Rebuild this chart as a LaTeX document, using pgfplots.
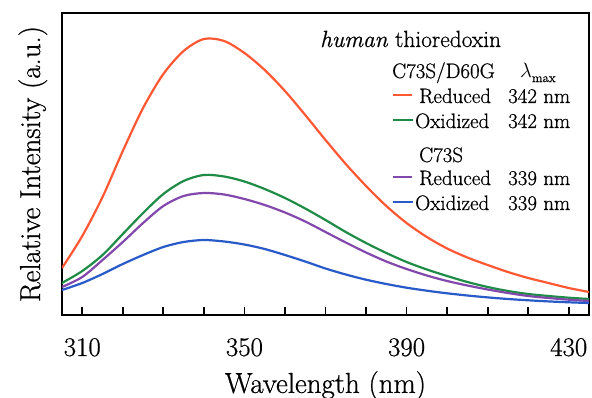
\documentclass[border=0pt]{standalone}
\usepackage{fontspec}
\setmainfont{Latin Modern Roman}[FakeBold=0.7]
\usepackage{pgfplots}
\pgfplotsset{compat=1.18}
\usepackage{pgfplotstable}
\definecolor{cred}{RGB}{255,88,50}
\definecolor{cgreen}{RGB}{30,140,70}
\definecolor{cpurple}{RGB}{130,72,172}
\definecolor{cblue}{RGB}{40,90,200}

\pgfplotstableread{
x red green purple blue
305 47 32 28 25
310 79 44 38 32
315 118 60 55 41
320 164 81 73 51
325 207 102 92 60
330 241 121 109 68
335 264 134 119 73
340 276 140 122 75
345 274 138.5 120.5 73.5
350 262 133.5 116 70.5
355 245 126 110 66
360 224 117 102.5 60
365 200 106.5 93.5 53.5
370 175 95 83 46.5
375 151 83 72.5 40.5
380 129 72 62.5 35.3
385 109 62 53.5 31
390 92 53 46 27.3
395 78 45.5 39.5 24.3
400 66.5 39 34 21.7
405 57.5 33 29.5 19.5
410 50 28 25.5 17.6
415 43 24 22 16
420 37 21 19 14.7
425 32 19 17 13.6
430 27 17.3 15.3 12.7
435 23 16 14 12
}\spectra

\begin{document}
\begin{tikzpicture}
\begin{axis}[
  scale only axis,
  width=527bp, height=302bp,
  at={(0,0)}, anchor=south west,
  xmin=305, xmax=435, ymin=0, ymax=302,
  xtick={310,350,390,430},
  minor xtick={320,330,340,360,370,380,400,410,420},
  ytick=\empty,
  xtick pos=left,
  xtick align=inside,
  major tick length=8bp, minor tick length=8bp,
  every tick/.style={black, line width=1.8bp},
  minor tick style={black, line width=1.8bp},
  major tick style={black, line width=1.8bp},
  axis line style={black, line width=2.6bp},
  /pgf/number format/assume math mode=true,
  xticklabel style={font=\fontsize{27}{30}\selectfont, anchor=base, yshift=-41bp},
  xlabel={Wavelength (nm)},
  ylabel={Relative Intensity (a.u.)},
  xlabel style={font=\fontsize{29}{33}\selectfont, at={(axis description cs:0.5,-0.258)}, anchor=base},
  ylabel style={font=\fontsize{29}{33}\selectfont, at={(axis description cs:-0.0417,0.5)}, anchor=base, rotate=0},
  clip=true,
]
\addplot[cred, line width=2.2bp, smooth] table[x=x,y=red] {\spectra};
\addplot[cgreen, line width=2.2bp, smooth] table[x=x,y=green] {\spectra};
\addplot[cpurple, line width=2.2bp, smooth] table[x=x,y=purple] {\spectra};
\addplot[cblue, line width=2.2bp, smooth] table[x=x,y=blue] {\spectra};
\end{axis}
\begin{scope}[every node/.style={inner sep=0pt, anchor=base west, font=\fontsize{21}{24}\selectfont}]
\node[font=\fontsize{23.5}{26}\selectfont] at (258bp,268bp) {\textit{human} thioredoxin};
\node at (330bp,237bp) {C73S/D60G};
\node at (458bp,237bp) {$\lambda$\raisebox{-0.45ex}{\fontsize{13}{14}\selectfont max}};
\node at (331bp,212bp) {\textcolor{cred}{\rule[0.32em]{19bp}{2bp}}\hspace{7bp}Reduced};
\node at (446bp,212bp) {342 nm};
\node at (331bp,187bp) {\textcolor{cgreen}{\rule[0.32em]{20bp}{2bp}}\hspace{2bp}Oxidized};
\node at (446bp,187bp) {342 nm};
\node at (357bp,153bp) {C73S};
\node at (331bp,130bp) {\textcolor{cpurple}{\rule[0.32em]{19bp}{2bp}}\hspace{7bp}Reduced};
\node at (446bp,130bp) {339 nm};
\node at (331bp,105bp) {\textcolor{cblue}{\rule[0.32em]{20bp}{2bp}}\hspace{2bp}Oxidized};
\node at (446bp,105bp) {339 nm};
\end{scope}
\pgfresetboundingbox
\path[use as bounding box] (-62bp,-83bp) rectangle (530bp,315bp);
\end{tikzpicture}
\end{document}
